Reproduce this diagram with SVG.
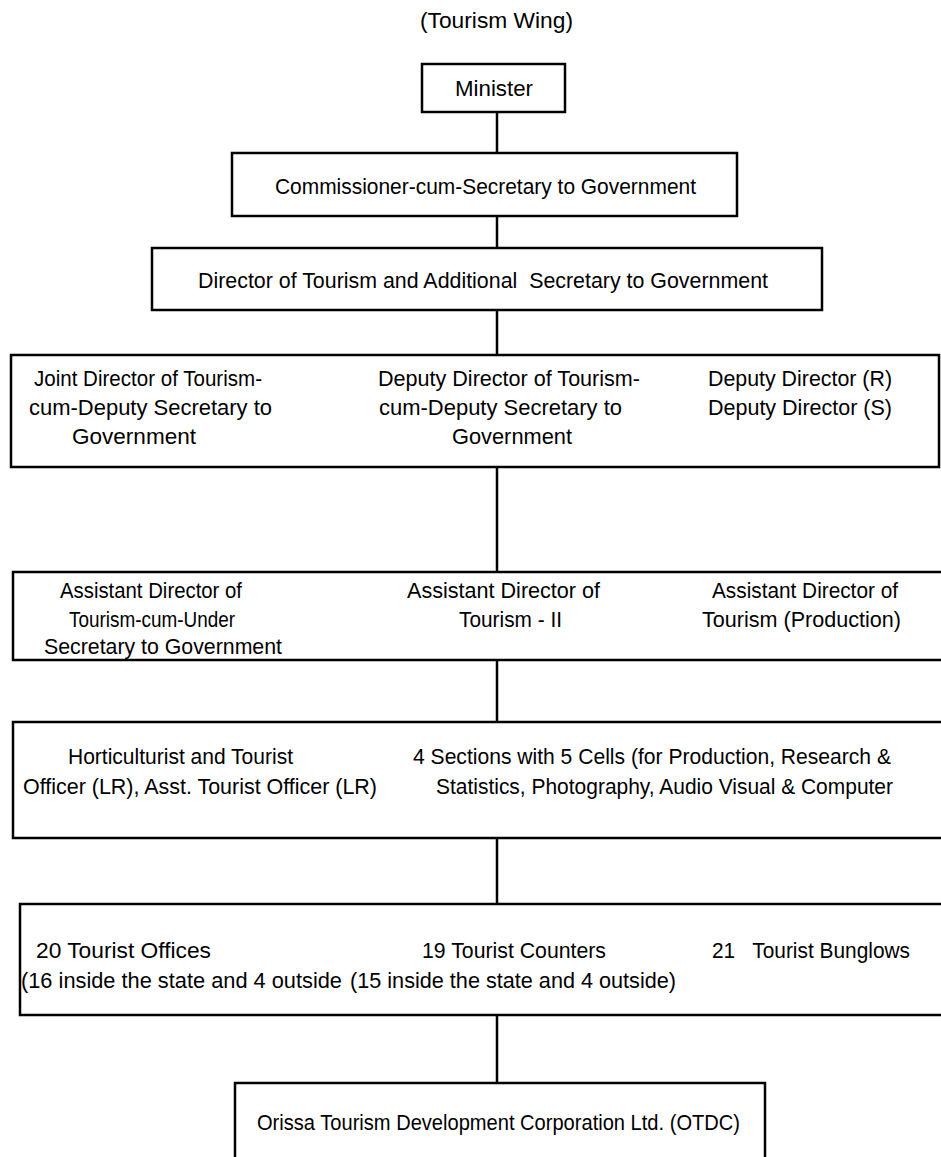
<svg xmlns="http://www.w3.org/2000/svg" width="941" height="1157" viewBox="0 0 941 1157">
<style>
.box{fill:#fff;stroke:#000;stroke-width:2.5}
.ln{stroke:#000;stroke-width:2.5;fill:none}
text{font-family:"Liberation Sans",Arial,sans-serif;font-size:22px;fill:#000}
</style>
<rect width="941" height="1157" fill="#fff"/>
<text id="title" x="420" y="28" textLength="153" lengthAdjust="spacingAndGlyphs">(Tourism Wing)</text>
<g id="connectors">
<line class="ln" x1="497" y1="112" x2="497" y2="153"/>
<line class="ln" x1="497" y1="216" x2="497" y2="248"/>
<line class="ln" x1="497" y1="310" x2="497" y2="355"/>
<line class="ln" x1="497" y1="467" x2="497" y2="572"/>
<line class="ln" x1="497" y1="660" x2="497" y2="722"/>
<line class="ln" x1="497" y1="838" x2="497" y2="904"/>
<line class="ln" x1="497" y1="1015" x2="497" y2="1083"/>
</g>
<g id="minister">
<rect class="box" x="422" y="64" width="143" height="48"/>
<text x="455" y="96" textLength="78" lengthAdjust="spacingAndGlyphs">Minister</text>
</g>
<g id="commissioner">
<rect class="box" x="232" y="153" width="505" height="63"/>
<text x="275" y="194" textLength="421" lengthAdjust="spacingAndGlyphs">Commissioner-cum-Secretary to Government</text>
</g>
<g id="director">
<rect class="box" x="152" y="248" width="670" height="62"/>
<text x="198" y="288" textLength="570" lengthAdjust="spacingAndGlyphs" xml:space="preserve">Director of Tourism and Additional  Secretary to Government</text>
</g>
<g id="joint-directors">
<rect class="box" x="11" y="355" width="928" height="112"/>
<text x="34" y="386" textLength="228" lengthAdjust="spacingAndGlyphs">Joint Director of Tourism-</text>
<text x="29" y="415" textLength="243" lengthAdjust="spacingAndGlyphs">cum-Deputy Secretary to</text>
<text x="72" y="444" textLength="124" lengthAdjust="spacingAndGlyphs">Government</text>
<text x="378" y="386" textLength="262" lengthAdjust="spacingAndGlyphs">Deputy Director of Tourism-</text>
<text x="379" y="415" textLength="243" lengthAdjust="spacingAndGlyphs">cum-Deputy Secretary to</text>
<text x="452" y="444" textLength="120" lengthAdjust="spacingAndGlyphs">Government</text>
<text x="708" y="386" textLength="184" lengthAdjust="spacingAndGlyphs">Deputy Director (R)</text>
<text x="708" y="415" textLength="184" lengthAdjust="spacingAndGlyphs">Deputy Director (S)</text>
</g>
<g id="assistant-directors">
<rect class="box" x="13" y="572" width="940" height="88"/>
<text x="60" y="598" textLength="182" lengthAdjust="spacingAndGlyphs">Assistant Director of</text>
<text x="69" y="627" textLength="166" lengthAdjust="spacingAndGlyphs">Tourism-cum-Under</text>
<text x="44" y="654" textLength="238" lengthAdjust="spacingAndGlyphs">Secretary to Government</text>
<text x="407" y="598" textLength="193" lengthAdjust="spacingAndGlyphs">Assistant Director of</text>
<text x="459" y="627" textLength="103" lengthAdjust="spacingAndGlyphs">Tourism - II</text>
<text x="712" y="598" textLength="186" lengthAdjust="spacingAndGlyphs">Assistant Director of</text>
<text x="702" y="627" textLength="199" lengthAdjust="spacingAndGlyphs">Tourism (Production)</text>
</g>
<g id="officers-sections">
<rect class="box" x="13" y="722" width="940" height="116"/>
<text x="68" y="764" textLength="225" lengthAdjust="spacingAndGlyphs">Horticulturist and Tourist</text>
<text x="23" y="794" textLength="354" lengthAdjust="spacingAndGlyphs">Officer (LR), Asst. Tourist Officer (LR)</text>
<text x="413" y="764" textLength="478" lengthAdjust="spacingAndGlyphs">4 Sections with 5 Cells (for Production, Research &amp;</text>
<text x="436" y="794" textLength="457" lengthAdjust="spacingAndGlyphs">Statistics, Photography, Audio Visual &amp; Computer</text>
</g>
<g id="field-units">
<rect class="box" x="20" y="904" width="935" height="111"/>
<text x="36" y="958" textLength="175" lengthAdjust="spacingAndGlyphs">20 Tourist Offices</text>
<text x="21" y="988" textLength="321" lengthAdjust="spacingAndGlyphs">(16 inside the state and 4 outside</text>
<text x="422" y="958" textLength="184" lengthAdjust="spacingAndGlyphs">19 Tourist Counters</text>
<text x="350" y="988" textLength="326" lengthAdjust="spacingAndGlyphs">(15 inside the state and 4 outside)</text>
<text x="712" y="958" textLength="198" lengthAdjust="spacingAndGlyphs" xml:space="preserve">21   Tourist Bunglows</text>
</g>
<g id="otdc">
<rect class="box" x="235" y="1083" width="530" height="100"/>
<text x="257" y="1130" textLength="483" lengthAdjust="spacingAndGlyphs">Orissa Tourism Development Corporation Ltd. (OTDC)</text>
</g>
</svg>
